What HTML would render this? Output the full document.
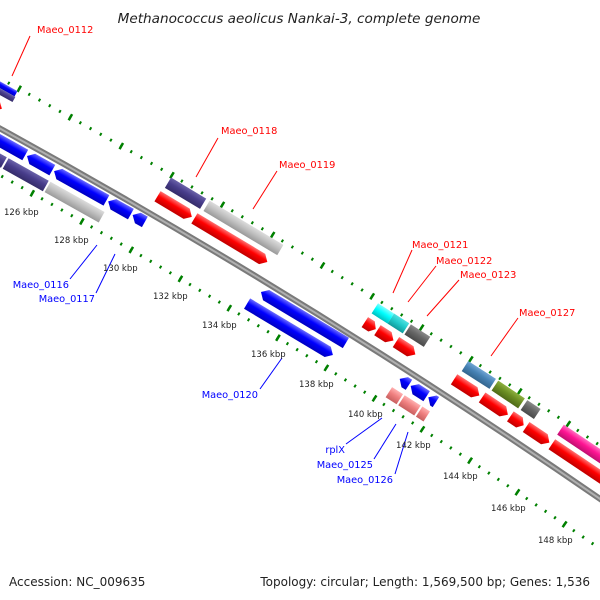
<!DOCTYPE html>
<html><head><meta charset="utf-8"><style>
html,body{margin:0;padding:0;background:#fff;}
svg{display:block;}
.lr{font-family:"DejaVu Sans","Liberation Sans",sans-serif;font-size:9.8px;fill:#ff0000;}
.lb{font-family:"DejaVu Sans","Liberation Sans",sans-serif;font-size:9.8px;fill:#0000ff;}
.tk{font-family:"DejaVu Sans","Liberation Sans",sans-serif;font-size:8.5px;fill:#222;}
</style></head><body>
<svg width="600" height="600" viewBox="0 0 600 600" xmlns="http://www.w3.org/2000/svg">
<defs>
<linearGradient id="gr" x1="0" y1="0" x2="0" y2="1"><stop offset="0" stop-color="#ff7070"/><stop offset="0.45" stop-color="#ff0000"/><stop offset="1" stop-color="#c00000"/></linearGradient>
<linearGradient id="gb" x1="0" y1="0" x2="0" y2="1"><stop offset="0" stop-color="#6a6aff"/><stop offset="0.45" stop-color="#0000ff"/><stop offset="1" stop-color="#0000c0"/></linearGradient>
<linearGradient id="gp" x1="0" y1="0" x2="0" y2="1"><stop offset="0" stop-color="#6a62a8"/><stop offset="0.45" stop-color="#483d8b"/><stop offset="1" stop-color="#352c6a"/></linearGradient>
<linearGradient id="gg" x1="0" y1="0" x2="0" y2="1"><stop offset="0" stop-color="#dcdcdc"/><stop offset="0.45" stop-color="#c0c0c0"/><stop offset="1" stop-color="#9a9a9a"/></linearGradient>
<linearGradient id="gc" x1="0" y1="0" x2="0" y2="1"><stop offset="0" stop-color="#80ffff"/><stop offset="0.45" stop-color="#00ffff"/><stop offset="1" stop-color="#00c0c0"/></linearGradient>
<linearGradient id="gc2" x1="0" y1="0" x2="0" y2="1"><stop offset="0" stop-color="#50e0e0"/><stop offset="0.45" stop-color="#20cccc"/><stop offset="1" stop-color="#109a9a"/></linearGradient>
<linearGradient id="gd" x1="0" y1="0" x2="0" y2="1"><stop offset="0" stop-color="#8a8a8a"/><stop offset="0.45" stop-color="#666"/><stop offset="1" stop-color="#4a4a4a"/></linearGradient>
<linearGradient id="gs" x1="0" y1="0" x2="0" y2="1"><stop offset="0" stop-color="#70a4d4"/><stop offset="0.45" stop-color="#4682b4"/><stop offset="1" stop-color="#33658e"/></linearGradient>
<linearGradient id="go" x1="0" y1="0" x2="0" y2="1"><stop offset="0" stop-color="#8eb040"/><stop offset="0.45" stop-color="#6b8e23"/><stop offset="1" stop-color="#4f6a18"/></linearGradient>
<linearGradient id="gk" x1="0" y1="0" x2="0" y2="1"><stop offset="0" stop-color="#ffb0b0"/><stop offset="0.45" stop-color="#f08080"/><stop offset="1" stop-color="#c86060"/></linearGradient>
<linearGradient id="gm" x1="0" y1="0" x2="0" y2="1"><stop offset="0" stop-color="#ff70c0"/><stop offset="0.45" stop-color="#ff1493"/><stop offset="1" stop-color="#c00f70"/></linearGradient>
</defs>
<rect width="600" height="600" fill="#fff"/>
<g transform="translate(0,128.5) rotate(28.8)">
  <path d="M -62 -43.73 A 7044 7044 0 0 1 763.3 -2.5" fill="none" stroke="#008000" stroke-width="3" stroke-dasharray="2 9.7"/>
  <path d="M -62 -43.73 A 7044 7044 0 0 1 763.3 -2.5" fill="none" stroke="#008000" stroke-width="7" stroke-dasharray="2.5 56"/>
  <path d="M -55.7 41.2 A 6959 6959 0 0 1 754.1 82" fill="none" stroke="#008000" stroke-width="3" stroke-dasharray="2 9.4"/>
  <path d="M -55.7 41.2 A 6959 6959 0 0 1 754.1 82" fill="none" stroke="#008000" stroke-width="7" stroke-dasharray="2.5 54.5"/>
  <path d="M -80 0.46 A 7000 7000 0 0 1 758.5 41.2" fill="none" stroke="#7a7a7a" stroke-width="6"/>
  <path d="M -80 0.46 A 7000 7000 0 0 1 758.5 41.2" fill="none" stroke="#b0b0b0" stroke-width="2"/>

  <g transform="rotate(0.4093 0 7000) translate(-50 0)">
    <rect x="-60" y="-41" width="57" height="6" fill="url(#gb)"/>
    <rect x="-60" y="-35" width="58" height="6" fill="url(#gp)"/>
    <polygon points="-60,-24 -14,-24 -8,-18 -14,-12 -60,-12" fill="url(#gr)"/>
    <g fill="url(#gb)">
    <polygon points="-60,5 35,5 35,17 -60,17"/>
    <polygon points="37,11 43,5 66,5 66,17 43,17"/>
    <polygon points="68,11 74,5 128,5 128,17 74,17"/>
    <polygon points="130,11 136,5 156,5 156,17 136,17"/>
    <polygon points="158,11 164,5 172,5 172,17 164,17"/>
    </g>
    <rect x="-60" y="22" width="80" height="12" fill="url(#gp)"/>
    <rect x="22" y="22" width="46" height="12" fill="url(#gp)"/>
    <rect x="70" y="22" width="62" height="12" fill="url(#gg)"/>
  </g>

  <g transform="rotate(2.1281 0 7000) translate(-260 0)">
    <rect x="172" y="-41" width="41" height="12" fill="url(#gp)"/>
    <rect x="217" y="-41" width="86" height="12" fill="url(#gg)"/>
    <g fill="url(#gr)">
    <polygon points="170,-24 204,-24 210,-18 204,-12 170,-12"/>
    <polygon points="213,-24 292,-24 298,-18 292,-12 213,-12"/>
    </g>
    <polygon points="308,11 314,5 407,5 407,17 314,17" fill="url(#gb)"/>
    <polygon points="302,22 396,22 402,28 396,34 302,34" fill="url(#gb)"/>
  </g>

  <g transform="rotate(3.847 0 7000) translate(-470 0)">
    <rect x="413" y="-41" width="19" height="12" fill="url(#gc)"/>
    <rect x="432" y="-41" width="18" height="12" fill="url(#gc2)"/>
    <rect x="452" y="-41" width="23" height="12" fill="url(#gd)"/>
    <rect x="520" y="-41" width="33" height="12" fill="url(#gs)"/>
    <g fill="url(#gr)">
    <polygon points="412,-24 420,-24 425,-18 420,-12 412,-12"/>
    <polygon points="427,-24 440,-24 446,-18 440,-12 427,-12"/>
    <polygon points="449,-24 466,-24 472,-18 466,-12 449,-12"/>
    <polygon points="518,-24 542,-24 548,-18 542,-12 518,-12"/>
    </g>
    <g fill="url(#gb)">
    <polygon points="472,11 478,5 483,5 483,17 478,17"/>
    <polygon points="485,11 491,5 504,5 504,17 491,17"/>
    <polygon points="506,11 512,5 515,5 515,17 512,17"/>
    </g>
    <rect x="470" y="22" width="13" height="12" fill="url(#gk)"/>
    <rect x="485" y="22" width="19" height="12" fill="url(#gk)"/>
    <rect x="506" y="22" width="9" height="12" fill="url(#gk)"/>
  </g>

  <g transform="rotate(5.0748 0 7000) translate(-620 0)">
    <rect x="555" y="-41" width="32" height="12" fill="url(#go)"/>
    <rect x="590" y="-41" width="16" height="12" fill="url(#gd)"/>
    <rect x="634" y="-41" width="100" height="12" fill="url(#gm)"/>
    <g fill="url(#gr)">
    <polygon points="551,-24 576,-24 582,-18 576,-12 551,-12"/>
    <polygon points="585,-24 596,-24 601,-18 596,-12 585,-12"/>
    <polygon points="604,-24 626,-24 632,-18 626,-12 604,-12"/>
    <polygon points="635,-24 740,-24 740,-12 635,-12"/>
    </g>
  </g>
</g>

<g stroke="#ff0000" stroke-width="1">
<line x1="30" y1="36" x2="12" y2="76"/>
<line x1="218" y1="138" x2="196" y2="177"/>
<line x1="277" y1="171" x2="253" y2="209"/>
<line x1="412" y1="250" x2="393" y2="293"/>
<line x1="436" y1="266" x2="408" y2="302"/>
<line x1="459" y1="280" x2="427" y2="316"/>
<line x1="518" y1="318" x2="491" y2="356"/>
</g>
<text class="lr" x="37" y="33">Maeo_0112</text>
<text class="lr" x="221" y="134">Maeo_0118</text>
<text class="lr" x="279" y="168">Maeo_0119</text>
<text class="lr" x="412" y="248">Maeo_0121</text>
<text class="lr" x="436" y="264">Maeo_0122</text>
<text class="lr" x="460" y="278">Maeo_0123</text>
<text class="lr" x="519" y="316">Maeo_0127</text>

<g stroke="#0000ff" stroke-width="1">
<line x1="70" y1="279" x2="97" y2="245"/>
<line x1="96" y1="293" x2="115" y2="254"/>
<line x1="260" y1="389" x2="282" y2="358"/>
<line x1="346" y1="444" x2="382" y2="418"/>
<line x1="374" y1="459" x2="396" y2="424"/>
<line x1="395" y1="474" x2="408" y2="432"/>
</g>
<g text-anchor="end">
<text class="lb" x="69" y="288">Maeo_0116</text>
<text class="lb" x="95" y="302">Maeo_0117</text>
<text class="lb" x="258" y="398">Maeo_0120</text>
<text class="lb" x="345" y="453">rplX</text>
<text class="lb" x="373" y="468">Maeo_0125</text>
<text class="lb" x="393" y="483">Maeo_0126</text>
</g>

<text class="tk" x="4" y="215">126 kbp</text>
<text class="tk" x="54" y="243">128 kbp</text>
<text class="tk" x="103" y="271">130 kbp</text>
<text class="tk" x="153" y="299">132 kbp</text>
<text class="tk" x="202" y="328">134 kbp</text>
<text class="tk" x="251" y="357">136 kbp</text>
<text class="tk" x="299" y="387">138 kbp</text>
<text class="tk" x="348" y="417">140 kbp</text>
<text class="tk" x="396" y="448">142 kbp</text>
<text class="tk" x="443" y="479">144 kbp</text>
<text class="tk" x="491" y="511">146 kbp</text>
<text class="tk" x="538" y="543">148 kbp</text>

<text x="299" y="23" text-anchor="middle" font-family="DejaVu Sans, Liberation Sans, sans-serif" font-style="italic" font-size="13.6" fill="#222">Methanococcus aeolicus Nankai-3, complete genome</text>
<text x="9" y="586" font-family="DejaVu Sans, Liberation Sans, sans-serif" font-size="12" fill="#222">Accession: NC_009635</text>
<text x="590" y="586" text-anchor="end" font-family="DejaVu Sans, Liberation Sans, sans-serif" font-size="12" fill="#222">Topology: circular; Length: 1,569,500 bp; Genes: 1,536</text>
</svg>
</body></html>
